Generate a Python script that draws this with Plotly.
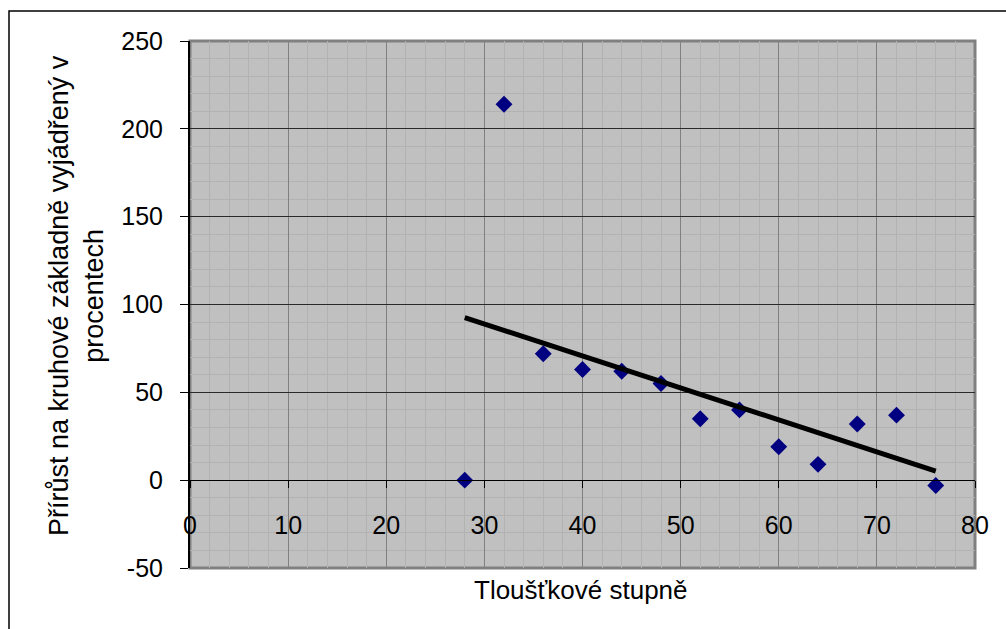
import numpy as np
import plotly.graph_objects as go

# Data
diameter_classes = [28, 32, 36, 40, 44, 48, 52, 56, 60, 64, 68, 72, 76]
increment_pct = [0, 214, 72, 63, 62, 55, 35, 40, 19, 9, 32, 37, -3]

x_ticks = [0, 10, 20, 30, 40, 50, 60, 70, 80]
y_ticks = [-50, 0, 50, 100, 150, 200, 250]

x_title = "Tloušťkové stupně"
y_title = "Přírůst na kruhové základně vyjádřený v<br>procentech"

# Linear trend (least squares)
coef = np.polyfit(diameter_classes, increment_pct, 1)
trend_x = [min(diameter_classes), max(diameter_classes)]
trend_y = list(np.polyval(coef, trend_x))

FONT = "Liberation Sans, Arial, sans-serif"

fig = go.Figure()
fig.add_trace(go.Scatter(
    x=diameter_classes, y=increment_pct, mode="markers",
    marker=dict(symbol="diamond", size=13, color="#000080"),
    showlegend=False, hoverinfo="x+y"))
fig.add_trace(go.Scatter(
    x=trend_x, y=trend_y, mode="lines",
    line=dict(color="#000000", width=5),
    showlegend=False, hoverinfo="skip"))

L, R, T, B = 190, 31, 41, 61
W, H = 1006, 629
pw, ph = W - L - R, H - T - B

def px_x(p):
    return (p - L) / pw

def px_y(p):
    return 1 - (p - T) / ph

fig.update_layout(
    width=W, height=H,
    margin=dict(l=L, r=R, t=T, b=B),
    paper_bgcolor="white",
    plot_bgcolor="#C0C0C0",
    font=dict(family=FONT, size=25, color="#000000"),
    xaxis=dict(
        range=[0, 80], tickvals=x_ticks, ticktext=[str(v) for v in x_ticks],
        anchor="free", position=1/6,
        showline=True, linecolor="#000000", linewidth=1,
        ticks="outside", ticklen=7, tickcolor="#000000", tickwidth=1,
        ticklabelstandoff=16,
        showgrid=True, gridcolor="#808080", gridwidth=1,
        zeroline=False,
        minor=dict(dtick=2, showgrid=True, gridcolor="#B2B2B2", gridwidth=1, ticks=""),
        tickfont=dict(family=FONT, size=25),
        fixedrange=True,
    ),
    yaxis=dict(
        range=[-50, 250], tickvals=y_ticks, ticktext=[str(v) for v in y_ticks],
        showline=True, linecolor="#000000", linewidth=2,
        ticks="outside", ticklen=8, tickcolor="#000000", tickwidth=1,
        ticklabelstandoff=12,
        showgrid=True, gridcolor="#2A2A2A", gridwidth=1,
        zeroline=True, zerolinecolor="#000000", zerolinewidth=1,
        minor=dict(dtick=10, showgrid=True, gridcolor="#B2B2B2", gridwidth=1, ticks=""),
        tickfont=dict(family=FONT, size=25),
        fixedrange=True,
    ),
    shapes=[
        dict(type="rect", xref="paper", yref="paper", x0=0, x1=1, y0=0, y1=1,
             line=dict(color="#808080", width=3), layer="below"),
        dict(type="rect", xref="paper", yref="paper",
             x0=px_x(9), x1=px_x(1012), y0=px_y(640), y1=px_y(11),
             line=dict(color="#000000", width=1.5), layer="below"),
    ],
    annotations=[
        dict(text=x_title, xref="paper", yref="paper",
             x=px_x(581), y=px_y(590), showarrow=False,
             font=dict(family=FONT, size=26), xanchor="center", yanchor="middle"),
        dict(text=y_title, xref="paper", yref="paper",
             x=px_x(76), y=px_y(296), showarrow=False, textangle=-90,
             font=dict(family=FONT, size=27), xanchor="center", yanchor="middle"),
    ],
)

fig.write_html("out.html")
